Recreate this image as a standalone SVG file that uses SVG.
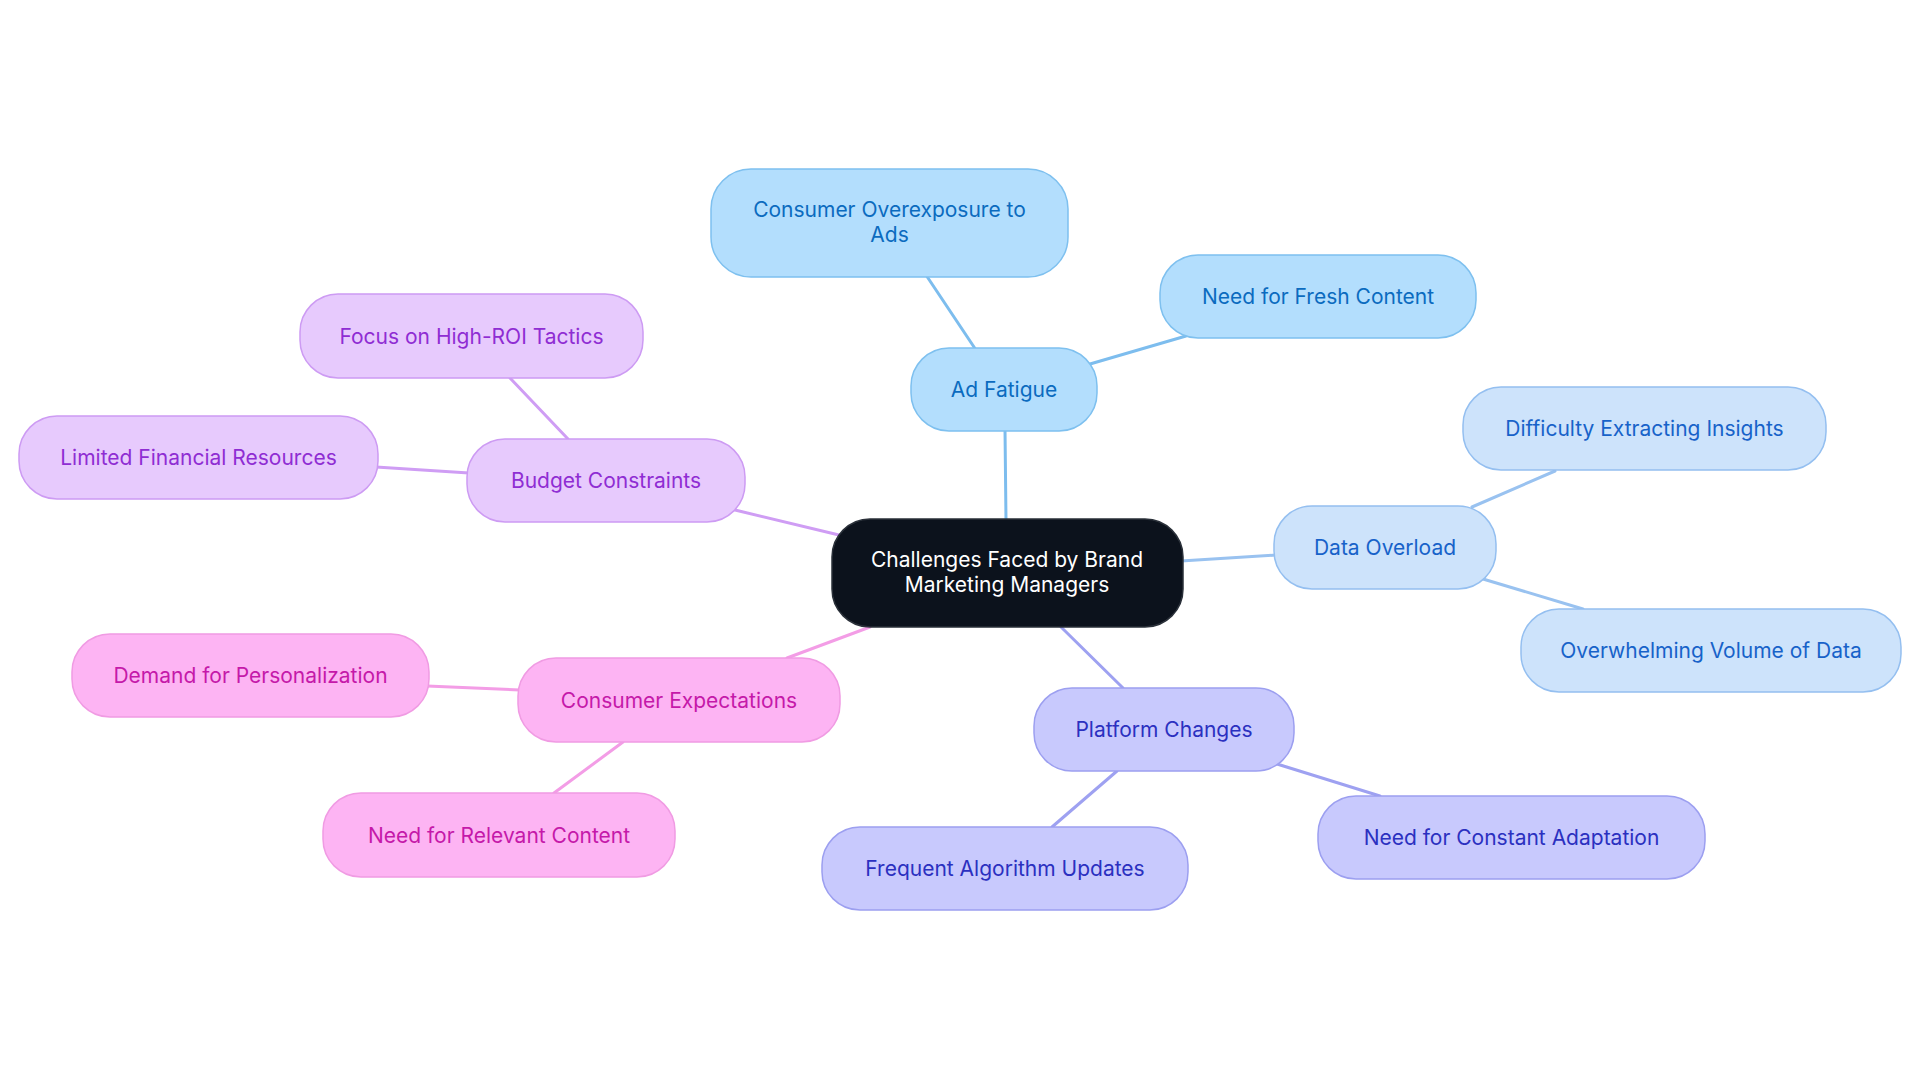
<svg xmlns="http://www.w3.org/2000/svg" width="1920" height="1083" viewBox="0 0 1920 1083">
<style>
text{font-family:Inter,"Noto Sans","Liberation Sans",sans-serif;font-size:21px;text-anchor:middle}
.edge{fill:none;stroke-width:3;stroke-linecap:round}
.n rect{stroke-width:1.5}
.ad rect{fill:#b3defd;stroke:#7ec0ef}.ad text{fill:#0b6bbf}
.ad-e{stroke:#7dbdee}
.da rect{fill:#cde3fb;stroke:#94bff0}.da text{fill:#1762c9}
.da-e{stroke:#99c2f0}
.pl rect{fill:#c8c9fd;stroke:#9c9ff0}.pl text{fill:#2b30c0}
.pl-e{stroke:#9ea1f1}
.ce rect{fill:#fdb4f3;stroke:#f09be3}.ce text{fill:#c519a9}
.ce-e{stroke:#f39de6}
.bu rect{fill:#e7cafd;stroke:#cd9bf3}.bu text{fill:#8f2dd3}
.bu-e{stroke:#cf9df4}
.root rect{fill:#0c121c;stroke:#2a3039;stroke-width:1.5}.root text{fill:#ffffff}
</style>
<rect width="1920" height="1083" fill="#ffffff"/>
<g id="connectors">
<line class="edge ad-e" x1="1006" y1="521" x2="1005" y2="429"/>
<line class="edge ad-e" x1="976" y1="350" x2="926" y2="275"/>
<line class="edge ad-e" x1="1090" y1="364" x2="1186" y2="336"/>
<line class="edge da-e" x1="1181" y1="561" x2="1276" y2="555"/>
<line class="edge da-e" x1="1472" y1="507" x2="1555" y2="471"/>
<line class="edge da-e" x1="1483" y1="579" x2="1583" y2="609"/>
<line class="edge pl-e" x1="1061" y1="627" x2="1123" y2="688"/>
<line class="edge pl-e" x1="1117" y1="771" x2="1052" y2="827"/>
<line class="edge pl-e" x1="1277" y1="764" x2="1380" y2="796"/>
<line class="edge ce-e" x1="870" y1="627" x2="787" y2="658"/>
<line class="edge ce-e" x1="520" y1="690" x2="427" y2="686"/>
<line class="edge ce-e" x1="623" y1="742" x2="554" y2="793"/>
<line class="edge bu-e" x1="839" y1="535" x2="735" y2="510"/>
<line class="edge bu-e" x1="568" y1="439" x2="510" y2="378"/>
<line class="edge bu-e" x1="469" y1="473" x2="376" y2="467"/>
</g>
<g id="root" class="n root"><rect x="832" y="519" width="351" height="108" rx="38"/><text x="1007" y="567">Challenges Faced by Brand</text><text x="1007" y="592">Marketing Managers</text></g>
<g id="ad-fatigue" class="n ad"><rect x="911" y="348" width="186" height="83" rx="38"/><text x="1004" y="397">Ad Fatigue</text></g>
<g id="consumer-overexposure" class="n ad"><rect x="711" y="169" width="357" height="108" rx="40"/><text x="889.5" y="217">Consumer Overexposure to</text><text x="889.5" y="242">Ads</text></g>
<g id="fresh-content" class="n ad"><rect x="1160" y="255" width="316" height="83" rx="38"/><text x="1318" y="304">Need for Fresh Content</text></g>
<g id="data-overload" class="n da"><rect x="1274" y="506" width="222" height="83" rx="38"/><text x="1385" y="555">Data Overload</text></g>
<g id="difficulty" class="n da"><rect x="1463" y="387" width="363" height="83" rx="38"/><text x="1644.5" y="436">Difficulty Extracting Insights</text></g>
<g id="overwhelming" class="n da"><rect x="1521" y="609" width="380" height="83" rx="38"/><text x="1711" y="658">Overwhelming Volume of Data</text></g>
<g id="platform" class="n pl"><rect x="1034" y="688" width="260" height="83" rx="38"/><text x="1164" y="737">Platform Changes</text></g>
<g id="algorithm" class="n pl"><rect x="822" y="827" width="366" height="83" rx="38"/><text x="1005" y="876">Frequent Algorithm Updates</text></g>
<g id="adaptation" class="n pl"><rect x="1318" y="796" width="387" height="83" rx="38"/><text x="1511.5" y="845">Need for Constant Adaptation</text></g>
<g id="consumer-expectations" class="n ce"><rect x="518" y="658" width="322" height="84" rx="38"/><text x="679" y="708">Consumer Expectations</text></g>
<g id="personalization" class="n ce"><rect x="72" y="634" width="357" height="83" rx="38"/><text x="250.5" y="683">Demand for Personalization</text></g>
<g id="relevant-content" class="n ce"><rect x="323" y="793" width="352" height="84" rx="38"/><text x="499" y="843">Need for Relevant Content</text></g>
<g id="budget" class="n bu"><rect x="467" y="439" width="278" height="83" rx="38"/><text x="606" y="488">Budget Constraints</text></g>
<g id="limited-resources" class="n bu"><rect x="19" y="416" width="359" height="83" rx="38"/><text x="198.5" y="465">Limited Financial Resources</text></g>
<g id="high-roi" class="n bu"><rect x="300" y="294" width="343" height="84" rx="38"/><text x="471.5" y="344">Focus on High-ROI Tactics</text></g>
</svg>
